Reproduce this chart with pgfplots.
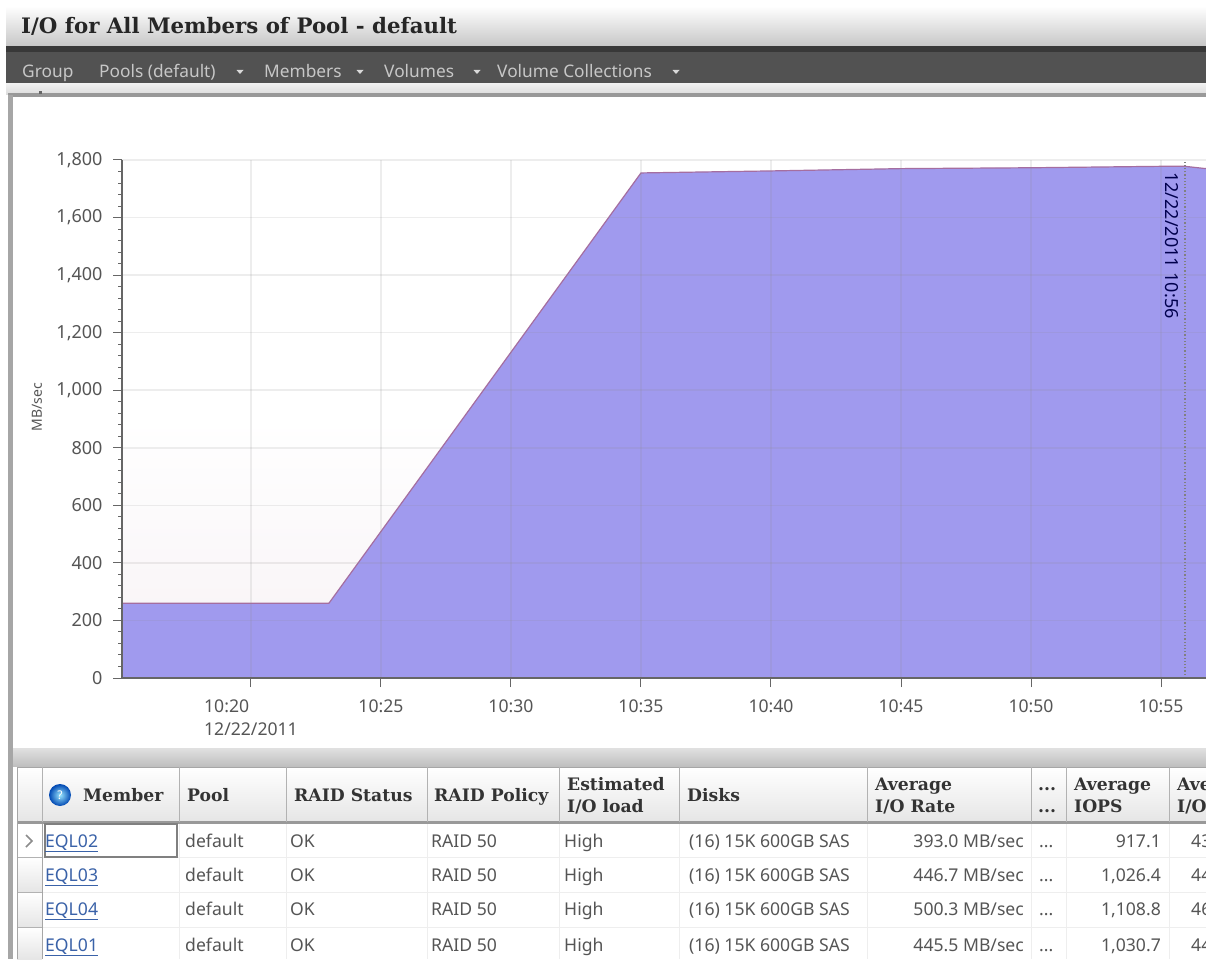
\documentclass[border=0pt]{standalone}
\usepackage{pgfplots}
\pgfplotsset{compat=1.18}
\usepackage{fontspec}
\setmainfont{Noto Sans}
\newfontfamily\hdr{DejaVu Serif}
\definecolor{areac}{HTML}{A09AEE}
\definecolor{linec}{HTML}{A56EA0}
\definecolor{pinkbg}{HTML}{F7F2F5}
\definecolor{txt}{HTML}{555555}
\definecolor{lnk}{HTML}{3A62A8}
\definecolor{sep}{HTML}{EEEEEE}
\newcommand{\ts}{\fontsize{17.6}{20}\selectfont}
\newcommand{\hs}{\fontsize{17.2}{22}\selectfont\hdr\bfseries}
\begin{document}
\begin{tikzpicture}
\useasboundingbox (0,0) rectangle (1206pt,959pt);
\begin{scope}
\clip (0,0) rectangle (1206pt,959pt);
\begin{scope}[x=1pt,y=-1pt,shift={(0pt,959pt)}]
% window chrome
\fill[white] (0,0) rectangle (1206,959);
\shade[top color=white,bottom color=black!22] (6,6) rectangle (1206,46);
\fill[black!68] (6,46) rectangle (1206,84);
\fill[black!78] (6,46) rectangle (1206,52);
\shade[top color=black!6,bottom color=black!14] (6,84) rectangle (1206,95);
\fill[black!40] (8,93.5) rectangle (1206,97);
\fill[black!35] (8,95) rectangle (13,748);
\fill[black!35] (8,748) rectangle (13,959);
\shade[top color=black!12,bottom color=black!25] (13,748) rectangle (1206,766);
\fill[black!60] (39,91) rectangle (42,94);
\node[anchor=base west,inner sep=0pt,text=black!85] at (21,34) {\fontsize{21.3}{24}\selectfont\hdr\bfseries I/O for All Members of Pool - default};
% toolbar
\begin{scope}[every node/.style={anchor=base west,inner sep=0pt,text=black!22}]
\node at (22,78) {\fontsize{17.3}{18}\selectfont Group};
\node at (99,78) {\fontsize{17.3}{18}\selectfont Pools (default)};
\node at (264,78) {\fontsize{17.3}{18}\selectfont Members};
\node at (384,78) {\fontsize{17.3}{18}\selectfont Volumes};
\node at (497,78) {\fontsize{17.3}{18}\selectfont Volume Collections};
\end{scope}
\foreach \x in {240,360,477,676} \fill[black!15] (\x-3.5,70) -- (\x+3.5,70) -- (\x,74) -- cycle;
% table header
\shade[top color=white,bottom color=black!10] (17,767) rectangle (1206,822);
\fill[black!40] (17,821) rectangle (1206,824);
\draw[black!35,line width=1pt] (17,767) -- (1206,767);
\foreach \x in {17,42,179,286,427,559,679,867,1031,1066,1169}
  \draw[black!30,line width=1pt] (\x,767) -- (\x,822);
% rows
\shade[top color=white,bottom color=black!10] (17,857) rectangle (42,892);
\shade[top color=white,bottom color=black!10] (17,892) rectangle (42,927);
\shade[top color=white,bottom color=black!10] (17,927) rectangle (42,959);
\foreach \y in {857,892,927} \draw[sep,line width=1pt] (42,\y) -- (1206,\y);
\foreach \y in {857,892,927} \draw[black!30,line width=1pt] (17,\y) -- (42,\y);
\foreach \x in {179,286,427,559,679,867,1031,1066,1169} \draw[sep,line width=1pt] (\x,824) -- (\x,959);
\draw[black!35,line width=1pt] (17,767) -- (17,959);
\draw[black!35,line width=1pt] (42,824) -- (42,959);
\draw[black!50,line width=1.5pt] (45,824) rectangle (177,857);
\draw[black!45,line width=1.5pt] (26,835) -- (32,841) -- (26,847);
\shade[inner color=blue!25!cyan!40,outer color=blue!60!cyan!70!black] (60,795) circle (11);
\node[text=white,inner sep=0pt] at (60,795) {\fontsize{12}{12}\selectfont\bfseries ?};
% header text
\begin{scope}[every node/.style={anchor=base west,inner sep=0pt,text=black!80}]
\node at (83,801) {\hs Member};
\node at (187,801) {\hs Pool};
\node at (294,801) {\hs RAID Status};
\node at (434,801) {\hs RAID Policy};
\node at (567,790) {\hs Estimated};
\node at (567,812) {\hs I/O load};
\node at (687,801) {\hs Disks};
\node at (875,790) {\hs Average};
\node at (875,812) {\hs I/O Rate};
\node at (1038,790) {\hs ...};
\node at (1038,812) {\hs ...};
\node at (1074,790) {\hs Average};
\node at (1074,812) {\hs IOPS};
\node at (1177,790) {\hs Average};
\node at (1177,812) {\hs I/O Size};
\end{scope}
% body text
\begin{scope}[every node/.style={anchor=base west,inner sep=0pt,text=txt}]
\foreach \y/\m/\r/\i/\z in {847/EQL02/393.0 MB\slash sec/917.1/43.0,
                            881/EQL03/446.7 MB\slash sec/{1,026.4}/44.0,
                            915/EQL04/500.3 MB\slash sec/{1,108.8}/46.0,
                            951/EQL01/445.5 MB\slash sec/{1,030.7}/44.0}{
  \node[text=lnk] at (45,\y) {\ts\underline{\m}};
  \node at (185,\y) {\ts default};
  \node at (290,\y) {\ts OK};
  \node at (431,\y) {\ts RAID 50};
  \node at (564,\y) {\ts High};
  \node at (689,\y) {\ts (16) 15K 600GB SAS};
  \node[anchor=base east] at (1024,\y) {\ts \r};
  \node at (1039,\y) {\ts ...};
  \node[anchor=base east] at (1161,\y) {\ts \i};
  \node at (1191,\y) {\ts \z};
}
\end{scope}
\end{scope}
\end{scope}
\begin{scope}
\clip (0,0) rectangle (1206pt,959pt);
\begin{axis}[
  at={(122pt,281pt)},anchor=south west,
  width=1084pt,height=518pt,scale only axis,
  xmin=15.04,xmax=56.73,ymin=0,ymax=1800,
  axis lines=left,
  axis line style={-,draw=black!60,line width=1.2pt},
  axis on top,
  axis background/.style={shade,top color=white,bottom color=pinkbg,middle color=white},
  xtick={20,25,30,35,40,45,50,55},
  xticklabels={{10:20\\12/22/2011},10:25,10:30,10:35,10:40,10:45,10:50,10:55},
  xticklabel style={align=left,text=txt,font=\fontsize{17.6}{23}\selectfont,anchor=north,yshift=-9pt},
  ytick={0,200,...,1800},
  minor y tick num=4,
  tick align=outside,
  major tick length=9pt,
  minor tick length=4pt,
  tick style={draw=black!60,line width=1pt},
  grid=major,
  grid style={draw=black!45,opacity=0.15,line width=1.5pt},
  yticklabel style={text=txt,font=\fontsize{18}{20}\selectfont,xshift=-7pt,
    /pgf/number format/.cd,1000 sep={,},assume math mode=true},
  ylabel={MB/sec},
  ylabel style={at={(axis description cs:-0.0784,0.523)},anchor=center,rotate=0,text=txt,font=\fontsize{14}{16}\selectfont},
  clip=true,
]
\addplot[fill=areac,draw=none,forget plot] coordinates {
 (15.04,260)(23,260)(35,1755)(40,1762)(45,1770)(50,1773)(55,1778)(55.92,1778)(56.73,1770)} \closedcycle;
\addplot[draw=linec,line width=1.2pt,forget plot] coordinates {
 (15.04,260)(23,260)(35,1755)(40,1762)(45,1770)(50,1773)(55,1778)(55.92,1778)(56.73,1770)};
\addplot[draw=black!50,dotted,line width=1.2pt,forget plot] coordinates {(55.92,0)(55.92,1800)};
\node[rotate=-90,anchor=west,inner sep=0pt,text=black!70!blue,font=\fontsize{18}{20}\selectfont] at (axis cs:55.4,1758) {12/22/2011 10:56};
\end{axis}
\end{scope}
\end{tikzpicture}
\end{document}
